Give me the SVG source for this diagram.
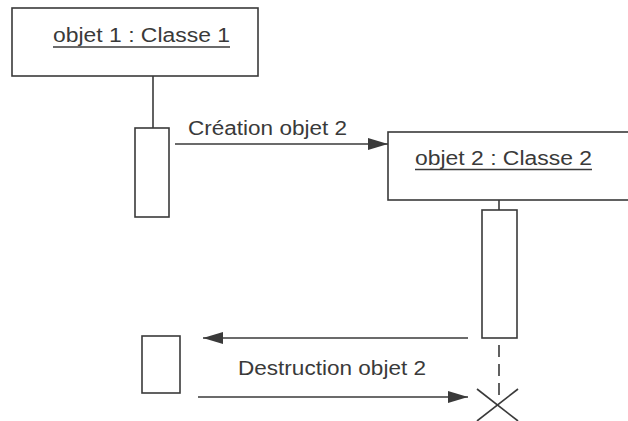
<svg xmlns="http://www.w3.org/2000/svg" width="628" height="421" viewBox="0 0 628 421">
<style>
.box{fill:#fff;stroke:#3a3a3a;stroke-width:1.6}
.ln{fill:none;stroke:#3a3a3a;stroke-width:1.6}
.t{font-family:"Liberation Sans",Arial,sans-serif;font-size:20px;fill:#3a3a3a}
</style>
<defs>
<marker id="ah" markerWidth="20" markerHeight="12" refX="20" refY="6" orient="auto" markerUnits="userSpaceOnUse">
<path d="M0,0 L20,6 L0,12 Z" fill="#3a3a3a"/>
</marker>
</defs>
<rect width="628" height="421" fill="#fff"/>
<g id="obj1">
<rect class="box" x="12" y="8" width="246" height="68"/>
<text class="t" x="53" y="42" textLength="177" lengthAdjust="spacingAndGlyphs">objet 1 : Classe 1</text>
<line class="ln" x1="53" y1="47" x2="230" y2="47"/>
</g>
<g id="act1">
<rect class="box" x="135" y="128" width="34" height="89"/>
</g>
<g id="obj2">
<rect class="box" x="388" y="132" width="260" height="68"/>
<text class="t" x="415" y="165" textLength="177" lengthAdjust="spacingAndGlyphs">objet 2 : Classe 2</text>
<line class="ln" x1="415" y1="169.5" x2="592" y2="169.5"/>
</g>
<g id="act2">
<rect class="box" x="482" y="210" width="35" height="128"/>
</g>
<g id="act3">
<rect class="box" x="142" y="336" width="38" height="57"/>
</g>
<g id="destroy">
<line class="ln" x1="477" y1="389" x2="518" y2="421"/>
<line class="ln" x1="518" y1="389" x2="477" y2="421"/>
</g>
<g id="connectors">
<line class="ln" x1="153" y1="76" x2="153" y2="128"/>
<line class="ln" x1="499" y1="200" x2="499" y2="210"/>
<line class="ln" x1="499" y1="345" x2="499" y2="402" stroke-dasharray="12,7"/>
<line class="ln" x1="175" y1="144" x2="388" y2="144" marker-end="url(#ah)"/>
<text class="t" x="188" y="135" textLength="159" lengthAdjust="spacingAndGlyphs">Création objet 2</text>
<line class="ln" x1="468" y1="338" x2="203" y2="338" marker-end="url(#ah)"/>
<line class="ln" x1="198" y1="397" x2="468" y2="397" marker-end="url(#ah)"/>
<text class="t" x="238" y="375" textLength="188" lengthAdjust="spacingAndGlyphs">Destruction objet 2</text>
</g>
</svg>
